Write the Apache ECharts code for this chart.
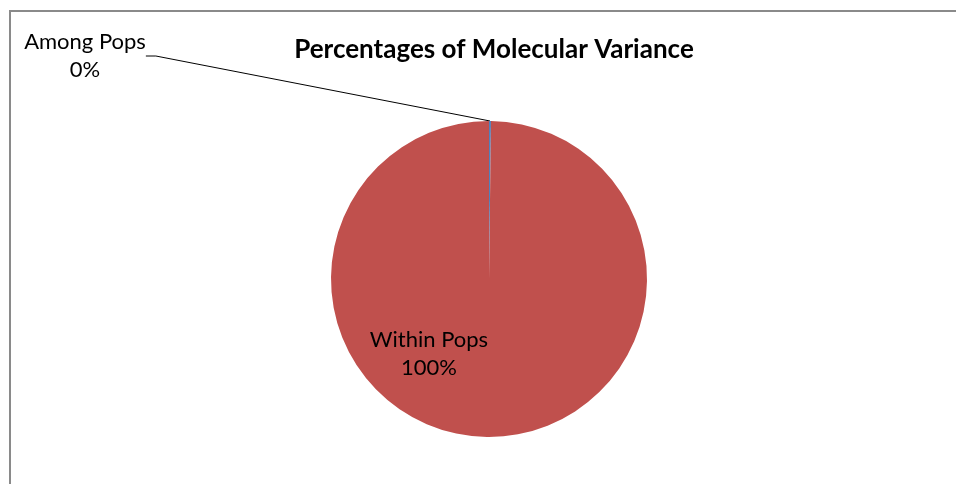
<!DOCTYPE html>
<html>
<head>
<meta charset="utf-8">
<title>Percentages of Molecular Variance</title>
<script src="https://cdn.jsdelivr.net/npm/echarts@6/dist/echarts.min.js"></script>
<style>
  html, body { margin: 0; padding: 0; background: #fff; }
  #chart { width: 956px; height: 484px; }
</style>
</head>
<body>
<div id="chart"></div>
<script>
// source values (percent of molecular variance)
const sourceNames = ['Among Pops', 'Within Pops'];
const sourceValues = [0.2, 99.8];
const sliceColors = ['#4F81BD', '#C0504D'];

const chart = echarts.init(document.getElementById('chart'));

const pieData = sourceNames.map((name, i) => ({
  name: name,
  value: sourceValues[i],
  itemStyle: { color: sliceColors[i] }
}));

const option = {
  animation: false,
  textStyle: { fontFamily: 'Lato, "Noto Sans", sans-serif' },
  title: {
    text: 'Percentages of Molecular Variance',
    left: 489,
    top: 32,
    textAlign: 'center',
    textStyle: {
      fontFamily: 'Lato, "Noto Sans", sans-serif',
      fontSize: 26,
      fontWeight: 'bold',
      color: '#000'
    }
  },
  graphic: [
    {
      // chart area frame, only left and top edges are in view
      type: 'rect',
      shape: { x: 10, y: 11, width: 1200, height: 800 },
      style: { fill: 'none', stroke: '#8a8a8a', lineWidth: 2 },
      silent: true
    }
  ],
  series: [
    {
      type: 'pie',
      center: [489, 279],
      radius: 158,
      startAngle: 90,
      clockwise: true,
      avoidLabelOverlap: false,
      data: pieData,
      itemStyle: { borderWidth: 0 },
      label: {
        show: true,
        position: 'outside',
        fontSize: 22,
        lineHeight: 28,
        color: '#000',
        align: 'center',
        formatter: (p) => p.name + '\n' + Math.round(p.percent) + '%'
      },
      labelLine: {
        show: true,
        length: 10,
        length2: 10,
        lineStyle: { color: '#000', width: 1 }
      },
      labelLayout: (params) => {
        if (params.dataIndex === 0) {
          return { x: 85, y: 56, align: 'center', verticalAlign: 'middle' };
        }
        return { x: 429, y: 354, align: 'center', verticalAlign: 'middle' };
      },
      emphasis: { disabled: true }
    }
  ]
};

// the big slice keeps its label inside, without a leader line
option.series[0].data[1].labelLine = { show: false };

chart.setOption(option);
</script>
</body>
</html>
